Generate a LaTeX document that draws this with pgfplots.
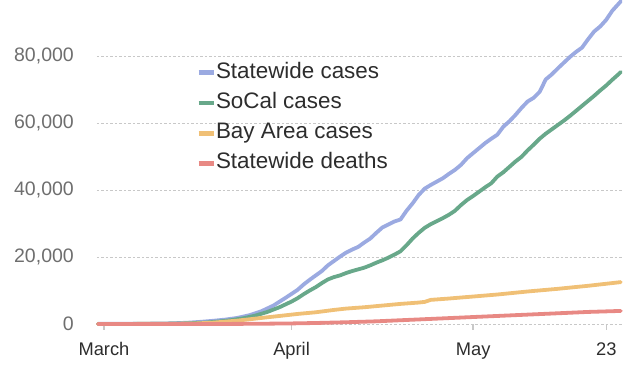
\documentclass[border=0pt]{standalone}
\usepackage{pgfplots}
\pgfplotsset{compat=1.18}
\usepackage{fontspec}
\setmainfont{Liberation Sans}
\definecolor{cblue}{RGB}{155,170,225}
\definecolor{cgreen}{RGB}{104,168,138}
\definecolor{corange}{RGB}{240,192,118}
\definecolor{cred}{RGB}{232,137,132}
\definecolor{ticklab}{RGB}{110,110,110}
\definecolor{xlab}{RGB}{45,45,45}
\definecolor{gridc}{RGB}{200,200,200}
\begin{document}
\begin{tikzpicture}
\useasboundingbox (-97pt,-61pt) rectangle (543pt,324pt);
\begin{axis}[
  scale only axis,
  width=525pt, height=324pt,
  xmin=-1.15, xmax=85.6,
  ymin=0, ymax=96700,
  clip=false,
  axis x line*=bottom, axis y line*=left,
  axis line style={draw=none},
  ymajorgrids,
  grid style={gridc, line width=0.8pt, dash pattern=on 2.5pt off 2pt},
  ytick={0,20000,40000,60000,80000},
  scaled y ticks=false,
  ytick style={draw=none},
  yticklabel={\pgfmathprintnumber[1000 sep={,}, fixed, precision=0]{\tick}},
  /pgf/number format/assume math mode=true,
  yticklabel style={font=\fontsize{19.5}{22}\selectfont, text=ticklab, anchor=east, inner sep=0pt, xshift=-17pt},
  xtick={0,31,61,83},
  xticklabels={March,April,May,23},
  xtick style={draw=gridc, line width=1.3pt},
  major tick length=6pt,
  tick align=outside,
  xticklabel style={font=\fontsize{18.3}{20}\selectfont, text=xlab, anchor=base, inner sep=0pt, yshift=-26pt},
  every axis plot/.append style={line width=3.8pt, line join=round, line cap=round},
  legend image code/.code={\draw[#1, line cap=butt, line width=4.8pt] (0pt,0pt) -- (15pt,0pt);},
  legend style={at={(rel axis cs:0.189,0.808)}, anchor=north west, draw=none, fill=none,
    font=\fontsize{22.4}{26}\selectfont, text=xlab, inner sep=0pt, outer sep=0pt,
    row sep=9.2pt, cells={anchor=west},
    nodes={inner sep=0pt, text height=16pt, text depth=5pt},
    /tikz/every even column/.append style={column sep=7pt}},
  legend cell align=left,
]
\addplot[cblue] coordinates {
(-1,30)(3,50)(7,90)(10,150)(12,250)(14,400)(16,650)(18,950)(20,1300)(22,1800)(24,2600)(26,3800)(28,5500)(30,7800)(31,9000)(32,10200)(33,11800)(34,13200)(35,14500)(36,15800)(37,17500)(38,18800)(39,20100)(40,21300)(41,22200)(42,23000)(43,24300)(44,25500)(45,27200)(46,28800)(47,29700)(48,30600)(49,31200)(50,33800)(51,36000)(52,38500)(53,40400)(54,41500)(55,42500)(56,43500)(57,44800)(58,46000)(59,47500)(60,49500)(61,51000)(62,52500)(63,54000)(64,55300)(65,56500)(66,58900)(67,60500)(68,62400)(69,64500)(70,66400)(71,67500)(72,69300)(73,73000)(74,74500)(75,76300)(76,78000)(77,79700)(78,81200)(79,82500)(80,85000)(81,87300)(82,88800)(83,90800)(84,93500)(85,95500)(85.4,96300)
};
\addlegendentry{Statewide cases}
\addplot[cgreen] coordinates {
(-1,10)(5,30)(10,80)(14,200)(17,450)(19,750)(21,1150)(23,1700)(25,2500)(27,3600)(29,5000)(31,6700)(32,7700)(33,8900)(34,10000)(35,11000)(36,12200)(37,13300)(38,14000)(39,14500)(40,15200)(41,15800)(42,16300)(43,16800)(44,17500)(45,18300)(46,19000)(47,19800)(48,20700)(49,21700)(50,23500)(51,25500)(52,27200)(53,28700)(54,29800)(55,30700)(56,31600)(57,32600)(58,33800)(59,35500)(60,37000)(61,38200)(62,39500)(63,40800)(64,42000)(65,44000)(66,45300)(67,46900)(68,48500)(69,49900)(70,51800)(71,53500)(72,55300)(73,56800)(74,58100)(75,59400)(76,60700)(77,62100)(78,63600)(79,65100)(80,66600)(81,68100)(82,69700)(83,71200)(84,72900)(85,74500)(85.4,75200)
};
\addlegendentry{SoCal cases}
\addplot[corange] coordinates {
(-1,0)(10,50)(15,150)(18,400)(20,700)(22,1000)(24,1400)(26,1800)(28,2200)(30,2600)(32,3000)(35,3500)(38,4200)(40,4600)(43,5000)(46,5500)(49,6000)(52,6400)(53,6600)(54,7200)(57,7600)(61,8200)(65,8800)(70,9700)(75,10500)(80,11400)(85.4,12500)
};
\addlegendentry{Bay Area cases}
\addplot[cred] coordinates {
(-1,0)(20,20)(25,60)(31,170)(35,300)(40,520)(45,800)(50,1200)(55,1600)(60,2000)(65,2400)(70,2800)(75,3200)(80,3600)(85.4,3900)
};
\addlegendentry{Statewide deaths}
\end{axis}
\end{tikzpicture}
\end{document}
